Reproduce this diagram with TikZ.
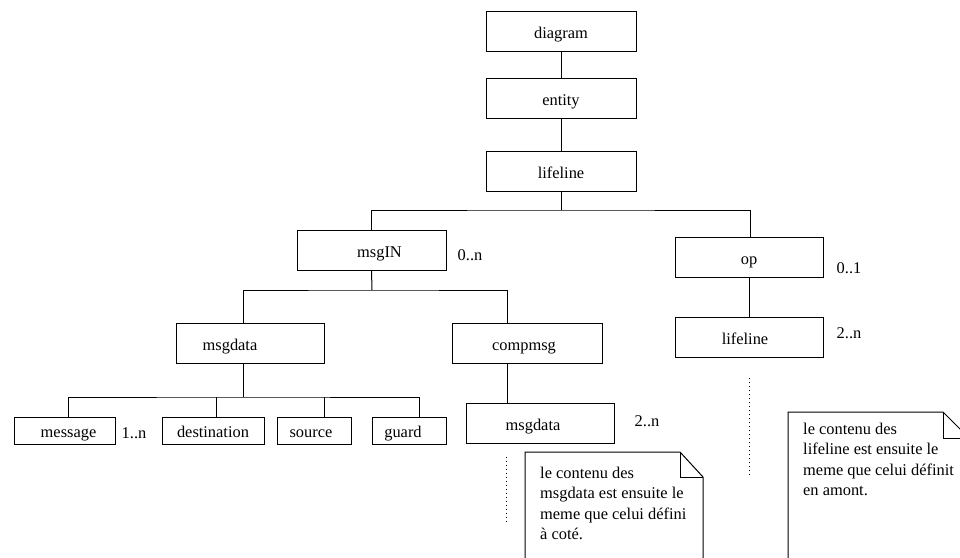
\documentclass[tikz,border=0pt]{standalone}
\usepackage{fontspec}
\setmainfont{Liberation Serif}
\usetikzlibrary{calc}
\begin{document}
\begin{tikzpicture}[x=1pt,y=-1pt,
  font=\fontsize{16.4pt}{20.4pt}\selectfont,
  box/.style={draw, line width=1pt, minimum width=#1, minimum height=40pt, inner sep=0pt, text height=14pt, text depth=0pt},
  box/.default=150pt,
  small/.style={draw, line width=1pt, minimum width=#1, minimum height=27pt, inner sep=0pt, text height=13pt, text depth=0pt},
  bl/.style={text height=14pt, text depth=0pt},
  sl/.style={text height=13pt, text depth=0pt},
  card/.style={inner sep=0pt},
  link/.style={line width=1pt},
  dots/.style={line width=1pt, dash pattern=on 1pt off 3pt},
  note/.style={line width=1pt},
  ntext/.style={align=left, inner sep=0pt, anchor=north west}]
\useasboundingbox (0,0) rectangle (960,557);
\clip (0,0) rectangle (960,557);

% boxes
\node[box] (diagram) at (561,31) {diagram};
\node[box] (entity) at (561,98) {entity};
\node[box] (lifeline) at (561,171) {lifeline};
\node[box=149pt, label={[bl, xshift=8pt]center:msgIN}] (msgIN) at (371.5,250) {};
\node[box=148pt] (op) at (749,257) {op};
\node[box=148pt, label={[bl, xshift=-4pt]center:lifeline}] (lifeline2) at (749,337) {};
\node[box=148pt, label={[bl, xshift=-20pt]center:msgdata}] (msgdata) at (250,343.5) {};
\node[box=150pt, label={[bl, xshift=-3pt]center:compmsg}] (compmsg) at (527,343.5) {};
\node[box=148pt, label={[bl, xshift=-7pt]center:msgdata}] (msgdata2) at (540,423) {};
\node[small=101pt, label={[sl, xshift=4pt]center:message}] (message) at (64.5,430.5) {};
\node[small=102pt] (destination) at (213,430.5) {destination};
\node[small=74pt, label={[sl, xshift=-3pt]center:source}] (source) at (314,430.5) {};
\node[small=74pt, label={[sl, xshift=-6pt]center:guard}] (guard) at (409,430.5) {};

% cardinalities
\node[card] (c1) at (470,255) {0..n};
\node[card] (c2) at (849,268) {0..1};
\node[card] (c3) at (849,333) {2..n};
\node[card] (c4) at (647,421) {2..n};
\node[card] (c5) at (134,433) {1..n};

% connectors
\draw[link] (diagram) -- (entity);
\draw[link] (entity) -- (lifeline);
\coordinate (b1) at (561,210);
\draw[link] (lifeline.south) -- (b1);
\draw[link] (msgIN.north) |- (b1) -| ([xshift=1pt]op.north);
\draw[link] (op.south) -- (lifeline2.north);

\coordinate (b2) at (372,290);
\draw[link] (msgIN.south) -- (b2);
\draw[link] ([xshift=-7pt]msgdata.north) |- (b2) -| ([xshift=-20pt]compmsg.north);
\draw[link] ([xshift=-20pt]compmsg.south) -- ([xshift=-33pt]msgdata2.north);

\coordinate (b3) at (243,397);
\draw[link] ([xshift=-7pt]msgdata.south) -- (b3);
\draw[link] ([xshift=3.5pt]message.north) |- (b3) -| ([xshift=10pt]guard.north);
\path ([xshift=3pt]destination.north) coordinate (dtop);
\path ([xshift=10pt]source.north) coordinate (stop);
\draw[link] (dtop) -- (dtop |- b3);
\draw[link] (stop) -- (stop |- b3);

% dotted continuations
\coordinate (d1a) at (506,457);
\coordinate (d1b) at (506,522);
\draw[dots] (d1a) -- (d1b);
\coordinate (d2a) at (749,378);
\coordinate (d2b) at (749,477);
\draw[dots] (d2a) -- (d2b);

% notes
\draw[note] (525,565) -- (525,452) -- (680,452) -- (703,477) -- (703,565);
\draw[note] (680,452) -- (680,477) -- (703,477);
\node[ntext] (n1) at (540,467) {le contenu des\\msgdata est ensuite le\\meme que celui défini\\à coté.};

\draw[note] (788,565) -- (788,412) -- (943,412) -- (968,437) -- (968,565);
\draw[note] (943,412) -- (943,438) -- (968,438);
\node[ntext] (n2) at (803,423) {le contenu des\\lifeline est ensuite le\\meme que celui définit\\en amont.};
\end{tikzpicture}
\end{document}
